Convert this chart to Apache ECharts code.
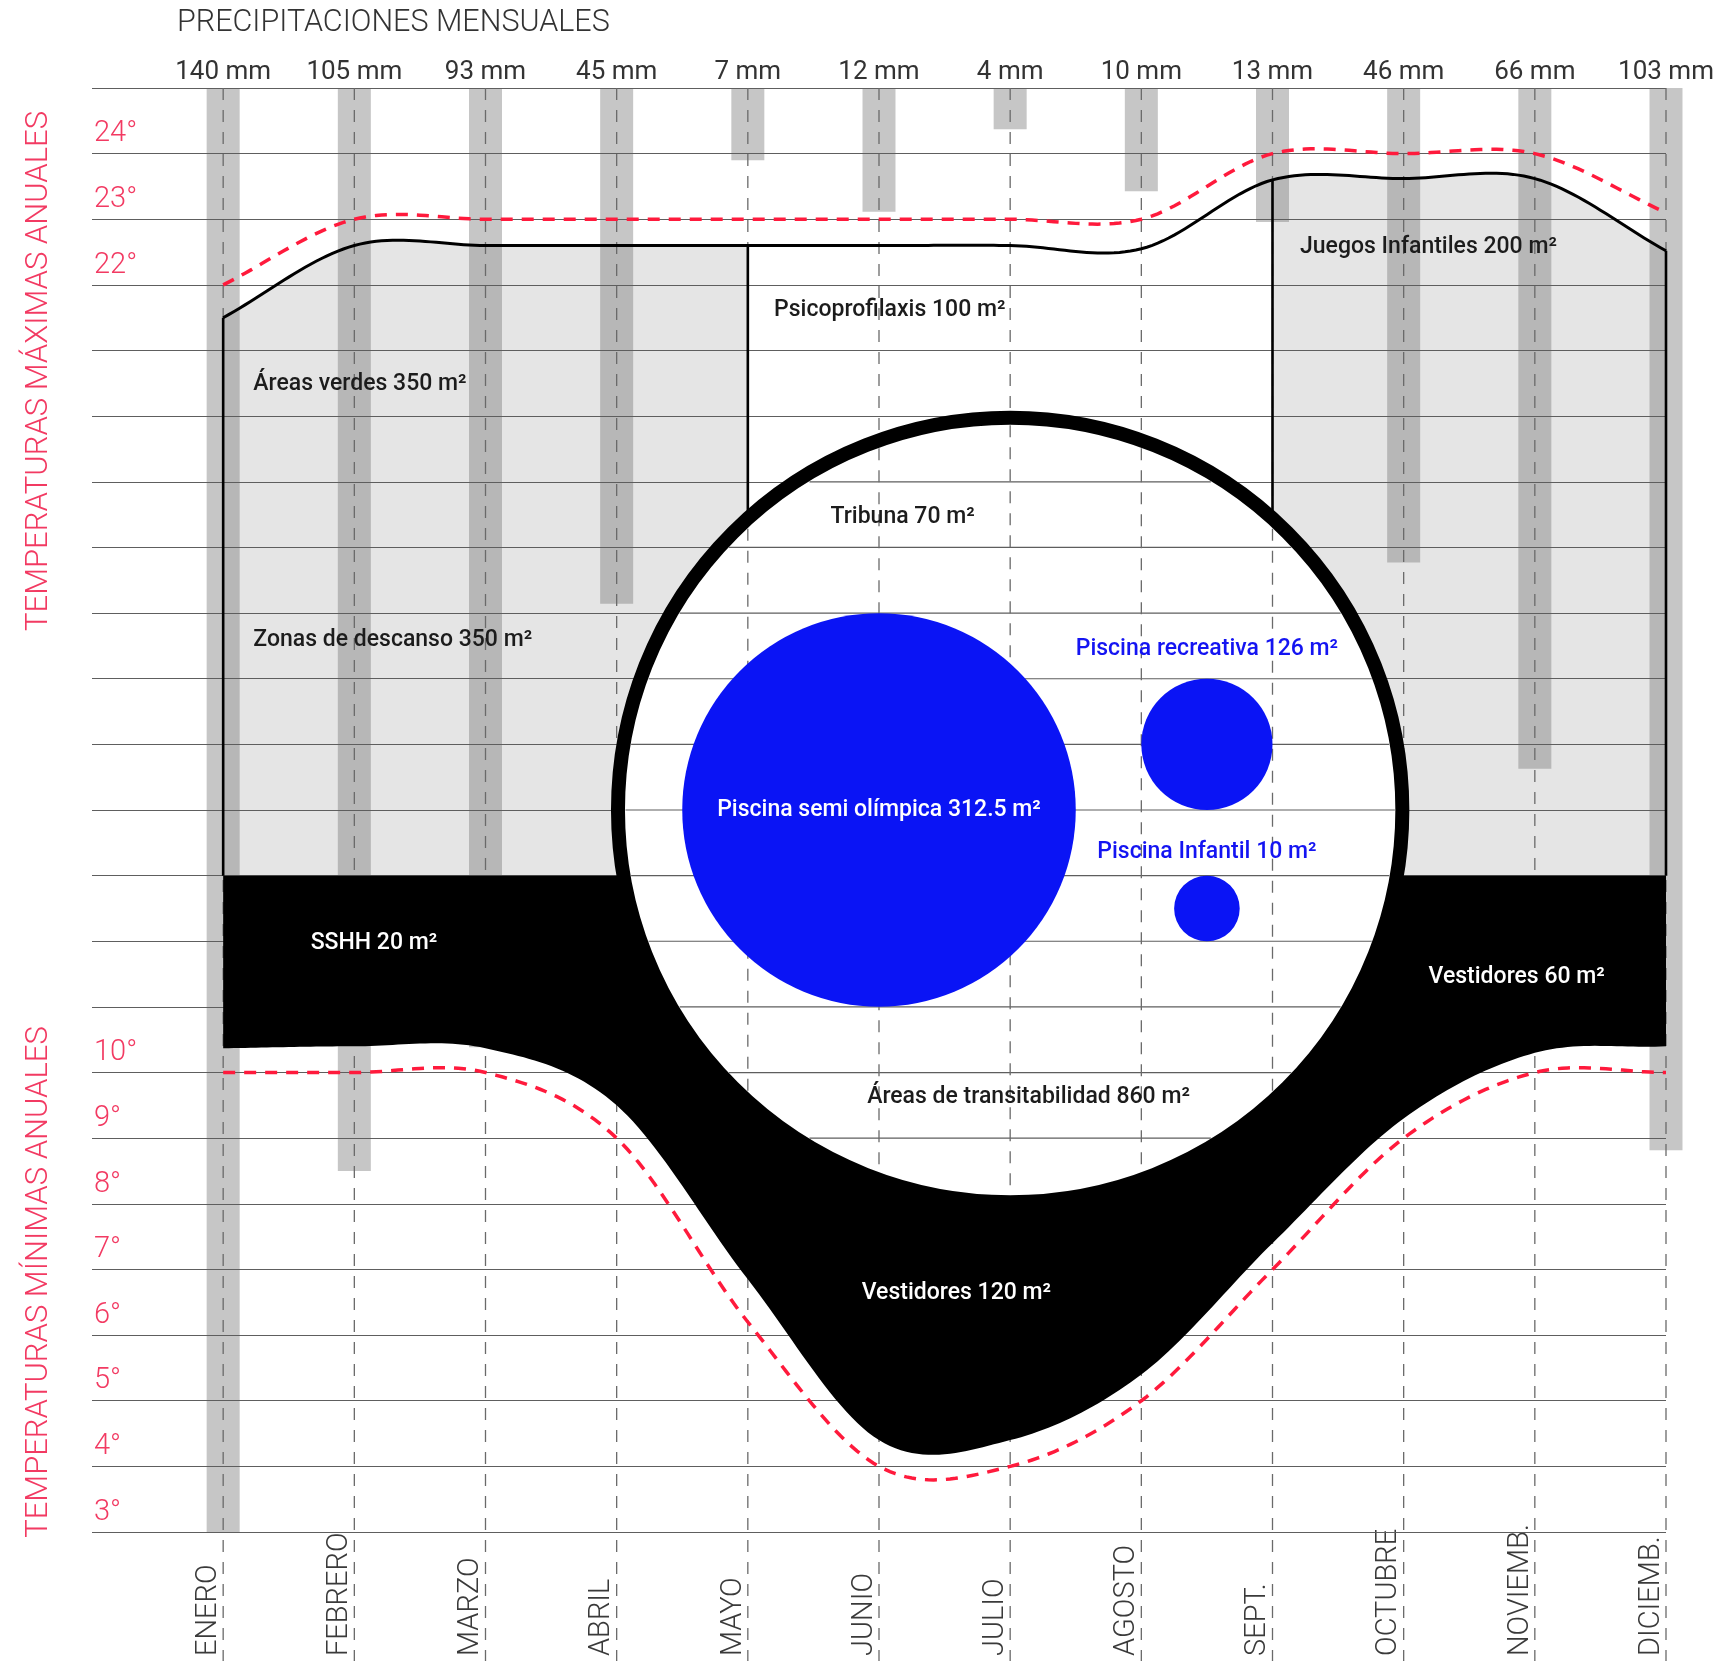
<!DOCTYPE html>
<html>
<head>
<meta charset="utf-8">
<script src="https://cdn.jsdelivr.net/npm/echarts@6/dist/echarts.min.js"></script>
<style>
html,body{margin:0;padding:0;background:#ffffff;}
#main{width:1735px;height:1661px;}
</style>
</head>
<body>
<div id="main"></div>
<script>
// ---------------- DATA ----------------
const months = ['ENERO','FEBRERO','MARZO','ABRIL','MAYO','JUNIO','JULIO','AGOSTO','SEPT.','OCTUBRE','NOVIEMB.','DICIEMB.'];
const precipitationLabels = ['140 mm','105 mm','93 mm','45 mm','7 mm','12 mm','4 mm','10 mm','13 mm','46 mm','66 mm','103 mm'];
const precipitationBars = [140, 105, 93, 50, 7, 12, 4, 10, 13, 46, 66, 103];   // bar lengths
const tempMax = [22, 23, 23, 23, 23, 23, 23, 23, 24, 24, 24, 23.1];
const tempMin = [10, 10, 10, 9, 6.2, 4, 4, 5, 7, 9, 10, 10];
// outline of the upper programme zones (solid black curve)
const zoneTopEdge = [21.5, 22.6, 22.6, 22.6, 22.6, 22.6, 22.6, 22.55, 23.6, 23.62, 23.62, 22.52];
// lower outline of the black service band
const bandBottomEdge = [10.37, 10.4, 10.37, 9.5, 6.85, 4.4, 4.4, 5.4, 7.4, 9.3, 10.3, 10.4];
const bandTopValue = 13;
const zoneWalls = [0, 4, 8, 11];          // month indices where zone walls stand
const whiteZone = [4, 8];                 // Psicoprofilaxis span (months)
const degreeTicks = [24, 23, 22, 10, 9, 8, 7, 6, 5, 4, 3];
const zoneNames = [
  'Áreas verdes 350 m²', 'Zonas de descanso 350 m²', 'Psicoprofilaxis 100 m²',
  'Juegos Infantiles 200 m²', 'Tribuna 70 m²', 'Piscina recreativa 126 m²',
  'Piscina semi olímpica 312.5 m²', 'Piscina Infantil 10 m²', 'SSHH 20 m²',
  'Vestidores 60 m²', 'Áreas de transitabilidad 860 m²', 'Vestidores 120 m²'
];

// ---------------- LAYOUT / STYLE ----------------
const labelLayout = [
  [0.23, 20.48, 'left', 'dark'],
  [0.23, 16.59, 'left', 'dark'],
  [4.20, 21.61, 'left', 'dark'],
  [8.21, 22.57, 'left', 'dark'],
  [5.18, 18.46, 'center', 'dark'],
  [7.50, 16.45, 'center', 'blue'],
  [5.00, 14.00, 'center', 'white'],
  [7.50, 13.35, 'center', 'blue'],
  [0.667, 11.97, 'left', 'white'],
  [9.19, 11.45, 'left', 'white'],
  [6.14, 9.63, 'center', 'dark'],
  [5.59, 6.63, 'center', 'white']
];
const poolLayout = [[5, 14, 3], [7.5, 15, 1], [7.5, 12.5, 0.5]]; // x, y, diameter in month units
const ringLayout = {x: 6, y: 14, d: 5.98, stroke: 14};
const textColors = {dark: '#1c1c1c', blue: '#1414f2', white: '#ffffff'};
const FN = 'Roboto,"Noto Sans",sans-serif';
const FL = 'Roboto,"Noto Sans",sans-serif';
const RED_TXT = '#f23a62';
const RED_LINE = '#ff1a3c';
const GRID_COLOR = '#5e5e5e';
const SPLINE_STEPS = 24;

// Hermite (Catmull-Rom) curve through the monthly values, in axis units
function curve(vals) {
  const n = vals.length;
  const m = vals.map((v, i) => i === 0 ? vals[1] - vals[0] : i === n - 1 ? vals[n - 1] - vals[n - 2] : (vals[i + 1] - vals[i - 1]) / 2);
  const out = [];
  for (let i = 0; i < n - 1; i++) {
    for (let s = 0; s < SPLINE_STEPS; s++) {
      const t = s / SPLINE_STEPS, t2 = t * t, t3 = t2 * t;
      const y = (2 * t3 - 3 * t2 + 1) * vals[i] + (t3 - 2 * t2 + t) * m[i] + (-2 * t3 + 3 * t2) * vals[i + 1] + (t3 - t2) * m[i + 1];
      out.push([i + t, y]);
    }
  }
  out.push([n - 1, vals[n - 1]]);
  return out;
}

const chart = echarts.init(document.getElementById('main'), null, {renderer: 'canvas'});

function curveSeries(name, z, build) {
  return {type: 'custom', name: name, data: [[0, bandTopValue]], silent: true, z: z, renderItem: build};
}

const option = {
  animation: false,
  backgroundColor: '#ffffff',
  grid: {left: 92, right: 69, top: 88, bottom: 129, containLabel: false, outerBoundsMode: 'none'},
  graphic: [
    {type: 'text', x: 177, y: 23, z: 20, style: {text: 'PRECIPITACIONES MENSUALES', fontFamily: FN, fontSize: 30.5, fontWeight: 300, fill: '#333333', verticalAlign: 'middle'}},
    {type: 'text', x: 39, y: 371, rotation: Math.PI / 2, z: 20, style: {text: 'TEMPERATURAS MÁXIMAS ANUALES', fontFamily: FN, fontSize: 31, fontWeight: 300, fill: RED_TXT, align: 'center', verticalAlign: 'middle'}},
    {type: 'text', x: 39, y: 1282, rotation: Math.PI / 2, z: 20, style: {text: 'TEMPERATURAS MÍNIMAS ANUALES', fontFamily: FN, fontSize: 31, fontWeight: 300, fill: RED_TXT, align: 'center', verticalAlign: 'middle'}}
  ],
  xAxis: [
    {type: 'value', min: -1, max: 11, interval: 1, position: 'bottom',
     axisLine: {show: false}, axisTick: {show: false}, splitLine: {show: false},
     axisLabel: {formatter: v => months[v] || '', rotate: 90, align: 'left', verticalAlign: 'bottom', margin: 124,
                 fontFamily: FN, fontSize: 29, fontWeight: 300, color: '#3a3a3a'}},
    {type: 'value', min: -1, max: 11, interval: 1, position: 'top',
     axisLine: {show: false}, axisTick: {show: false}, splitLine: {show: false},
     axisLabel: {formatter: v => precipitationLabels[v] || '', margin: 3,
                 fontFamily: FN, fontSize: 26, color: '#333333'}}
  ],
  yAxis: [
    {type: 'value', min: 3, max: 25, interval: 1, z: 4,
     axisLine: {show: false}, axisTick: {show: false},
     splitLine: {show: true, lineStyle: {color: GRID_COLOR, width: 1.2}},
     axisLabel: {inside: true, margin: 2, align: 'left', verticalAlign: 'bottom', padding: [0, 0, 5, 0],
                 formatter: v => degreeTicks.includes(v) ? v + '°' : '',
                 fontFamily: FN, fontSize: 29, fontWeight: 300, color: RED_TXT}},
    {type: 'value', min: 0, max: 140, inverse: true, show: false}
  ],
  series: [
    // light grey programme zones
    curveSeries('zonas', 1, (params, api) => {
      const pts = curve(zoneTopEdge).map(p => api.coord(p));
      pts.push(api.coord([zoneTopEdge.length - 1, bandTopValue]));
      pts.push(api.coord([0, bandTopValue]));
      return {type: 'polygon', shape: {points: pts}, style: {fill: '#e5e5e5'}};
    }),
    // white Psicoprofilaxis zone
    {type: 'custom', name: 'psico', data: [[whiteZone[0], whiteZone[1]]], silent: true, z: 2,
     renderItem: (params, api) => {
       const a = api.coord([api.value(0), 25]);
       const b = api.coord([api.value(1), bandTopValue]);
       return {type: 'rect', shape: {x: a[0], y: a[1], width: b[0] - a[0], height: b[1] - a[1]}, style: {fill: '#ffffff'}};
     }},
    // precipitation bars
    {type: 'bar', name: 'precipitacion', xAxisIndex: 0, yAxisIndex: 1, data: precipitationBars.map((v, i) => [i, v]),
     barWidth: 33, clip: false, silent: true, itemStyle: {color: 'rgba(120,120,120,0.42)'}, z: 3},
    // month dashed lines
    {type: 'custom', name: 'meses', data: months.map((m, i) => [i, 25]), silent: true, z: 4, clip: false,
     renderItem: (params, api) => {
       const p = api.coord([api.value(0), 25]);
       return {type: 'line', shape: {x1: p[0], y1: p[1], x2: p[0], y2: api.getHeight()},
               style: {stroke: '#6a6a6a', lineWidth: 1.3, lineDash: [12, 10]}};
     }},
    // black outline of zones
    curveSeries('contorno', 5, (params, api) => ({
      type: 'polyline', shape: {points: curve(zoneTopEdge).map(p => api.coord(p))},
      style: {stroke: '#000000', lineWidth: 3, fill: null}
    })),
    // zone walls
    {type: 'custom', name: 'muros', data: zoneWalls.map(i => [i, zoneTopEdge[i]]), silent: true, z: 5,
     renderItem: (params, api) => {
       const a = api.coord([api.value(0), api.value(1)]);
       const b = api.coord([api.value(0), bandTopValue]);
       return {type: 'line', shape: {x1: a[0], y1: a[1], x2: b[0], y2: b[1]}, style: {stroke: '#000000', lineWidth: 2.6}};
     }},
    // temperature lines
    curveSeries('max', 6, (params, api) => ({
      type: 'polyline', shape: {points: curve(tempMax).map(p => api.coord(p))},
      style: {stroke: RED_LINE, lineWidth: 3.5, lineDash: [12, 9], fill: null}
    })),
    curveSeries('min', 6, (params, api) => ({
      type: 'polyline', shape: {points: curve(tempMin).map(p => api.coord(p))},
      style: {stroke: RED_LINE, lineWidth: 3.5, lineDash: [12, 9], fill: null}
    })),
    // black service band
    curveSeries('banda', 7, (params, api) => {
      const pts = [api.coord([0, bandTopValue])].concat(curve(bandBottomEdge).map(p => api.coord(p)));
      pts.push(api.coord([bandBottomEdge.length - 1, bandTopValue]));
      return {type: 'polygon', shape: {points: pts}, style: {fill: '#000000'}};
    }),
    // big ring
    {type: 'custom', name: 'anillo', data: [[ringLayout.x, ringLayout.y]], silent: true, z: 8,
     renderItem: (params, api) => {
       const c = api.coord([api.value(0), api.value(1)]);
       const r = api.size([ringLayout.d, 0])[0] / 2;
       return {type: 'circle', shape: {cx: c[0], cy: c[1], r: r}, style: {fill: '#ffffff', stroke: '#000000', lineWidth: ringLayout.stroke}};
     }},
    // grid lines seen through the ring
    {type: 'custom', name: 'reticula', data: [[ringLayout.x, ringLayout.y]], silent: true, z: 9,
     renderItem: (params, api) => {
       const c = api.coord([api.value(0), api.value(1)]);
       const rin = api.size([ringLayout.d, 0])[0] / 2 - ringLayout.stroke / 2 - 0.5;
       const children = [];
       for (let v = 3; v <= 25; v++) {
         const y = api.coord([0, v])[1];
         const dy = y - c[1];
         if (Math.abs(dy) < rin) {
           const dx = Math.sqrt(rin * rin - dy * dy);
           children.push({type: 'line', shape: {x1: c[0] - dx, y1: y, x2: c[0] + dx, y2: y}, style: {stroke: GRID_COLOR, lineWidth: 1.2}});
         }
       }
       for (let i = 0; i < months.length; i++) {
         const x = api.coord([i, 0])[0];
         const dx = x - c[0];
         if (Math.abs(dx) < rin) {
           const dy = Math.sqrt(rin * rin - dx * dx);
           children.push({type: 'line', shape: {x1: x, y1: c[1] - dy, x2: x, y2: c[1] + dy}, style: {stroke: '#6a6a6a', lineWidth: 1.3, lineDash: [12, 10]}});
         }
       }
       return {type: 'group', children: children};
     }},
    // pools
    {type: 'custom', name: 'piscinas', data: poolLayout, silent: true, z: 10,
     renderItem: (params, api) => {
       const c = api.coord([api.value(0), api.value(1)]);
       const r = api.size([api.value(2), 0])[0] / 2;
       return {type: 'circle', shape: {cx: c[0], cy: c[1], r: r}, style: {fill: '#0a14f5'}};
     }},
    // labels
    {type: 'custom', name: 'etiquetas', data: labelLayout.map((l, i) => [l[0], l[1], i]), silent: true, z: 11,
     renderItem: (params, api) => {
       const i = api.value(2);
       const L = labelLayout[i];
       const p = api.coord([api.value(0), api.value(1)]);
       return {type: 'text', x: p[0], y: p[1],
               style: {text: zoneNames[i], align: L[2], verticalAlign: 'middle', fill: textColors[L[3]],
                       fontFamily: FL, fontSize: 23, fontWeight: 500}};
     }}
  ]
};
chart.setOption(option);
</script>
</body>
</html>
